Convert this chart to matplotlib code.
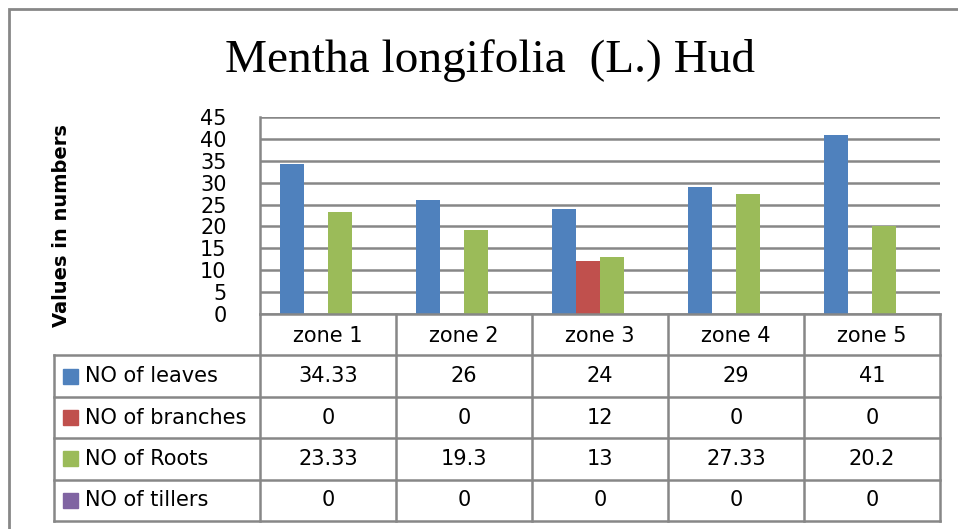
import numpy as np
import matplotlib.pyplot as plt
from matplotlib.patches import Rectangle

zones = ['zone 1', 'zone 2', 'zone 3', 'zone 4', 'zone 5']
series_names = ['NO of leaves', 'NO of branches', 'NO of Roots', 'NO of tillers']
leaves = [34.33, 26, 24, 29, 41]
branches = [0, 0, 12, 0, 0]
roots = [23.33, 19.3, 13, 27.33, 20.2]
tillers = [0, 0, 0, 0, 0]
colores = ['#4F81BD', '#C0504D', '#9BBB59', '#8064A2']

datos = [leaves, branches, roots, tillers]
gris = '#878787'
fuente = 'DejaVu Sans'
tam = 15

W, H = 958, 529
fig = plt.figure(figsize=(W / 100, H / 100), dpi=100)

# borde exterior del grafico
fig.patches.append(Rectangle((9 / W, -0.1), 1.2, 1 - 9 / H + 0.1, transform=fig.transFigure,
                             fill=False, edgecolor=gris, linewidth=2))

# zona de barras
izq, der, arriba, abajo = 260, 940, 117, 314
ax = fig.add_axes([izq / W, 1 - abajo / H, (der - izq) / W, (abajo - arriba) / H])
x = np.arange(len(zones))
ancho = 0.176
for i, serie in enumerate(datos):
    ax.bar(x + (i - 1.5) * ancho, serie, ancho, color=colores[i], zorder=3)
ax.set_xlim(-0.5, len(zones) - 0.5)
ax.set_ylim(0, 45)
ax.set_yticks(np.arange(0, 46, 5))
ax.yaxis.grid(True, color=gris, linewidth=1.8, zorder=0)
ax.set_xticks([])
ax.tick_params(axis='y', length=0, pad=24, labelsize=tam)
for lbl in ax.get_yticklabels():
    lbl.set_fontfamily(fuente)
for s in ['top', 'right', 'bottom']:
    ax.spines[s].set_visible(False)
ax.spines['left'].set_color(gris)
ax.spines['left'].set_linewidth(1.8)
ax.set_ylabel('Values in numbers', fontsize=14, fontweight='bold', fontfamily=fuente, labelpad=0)
ax.yaxis.set_label_coords(-0.278, 0.45)

# tabla de datos
t_izq, t_abajo = 54, 521
axt = fig.add_axes([t_izq / W, 1 - t_abajo / H, (der - t_izq) / W, (t_abajo - abajo) / H])
x0 = -0.5 - (izq - t_izq) / 136.0
axt.set_xlim(x0, len(zones) - 0.5)
filas = len(series_names) + 1
axt.set_ylim(filas, 0)
axt.axis('off')
lw = 1.8
# lineas horizontales
axt.plot([-0.5, len(zones) - 0.5], [0, 0], color=gris, lw=lw, clip_on=False)
for r in range(1, filas + 1):
    axt.plot([x0, len(zones) - 0.5], [r, r], color=gris, lw=lw, clip_on=False)
# lineas verticales
axt.plot([x0, x0], [1, filas], color=gris, lw=lw, clip_on=False)
for c in range(len(zones) + 1):
    axt.plot([c - 0.5, c - 0.5], [0, filas], color=gris, lw=lw, clip_on=False)

for c, z in enumerate(zones):
    axt.text(c, 0.52, z, ha='center', va='center', fontsize=tam, fontfamily=fuente)
for r, (nombre, serie) in enumerate(zip(series_names, datos)):
    yc = r + 1.5
    axt.add_patch(Rectangle((x0 + 0.065, yc - 0.18), 0.11, 0.36, color=colores[r], clip_on=False))
    axt.text(x0 + 0.225, yc, nombre, ha='left', va='center', fontsize=tam, fontfamily=fuente)
    for c, v in enumerate(serie):
        axt.text(c, yc, '{:g}'.format(v), ha='center', va='center', fontsize=tam, fontfamily=fuente)

fig.text(490 / W, 1 - 61 / H, 'Mentha longifolia  (L.) Hud', ha='center', va='center',
         fontsize=34, fontfamily='Liberation Serif')

fig.savefig('out.png', dpi=100)
